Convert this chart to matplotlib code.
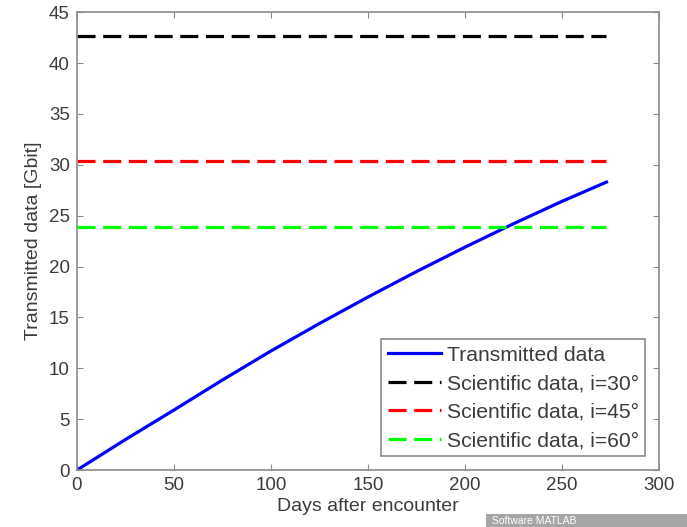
import matplotlib
matplotlib.use("Agg")
import matplotlib.pyplot as plt
from matplotlib.patches import Rectangle

# transmitted data curve
days = [0, 25, 50, 75, 100, 125, 150, 175, 200, 225, 250, 273]
transmitted = [0, 3.0, 5.9, 8.85, 11.7, 14.4, 17.0, 19.5, 21.9, 24.2, 26.4, 28.3]

# scientific data levels for each inclination
sci_labels = ["Scientific data, i=30°", "Scientific data, i=45°", "Scientific data, i=60°"]
sci_levels = [42.65, 30.4, 23.85]
sci_colors = ["#000000", "#ff0000", "#00ff00"]

xticks = [0, 50, 100, 150, 200, 250, 300]
yticks = [0, 5, 10, 15, 20, 25, 30, 35, 40, 45]

plt.rcParams["font.family"] = ["Liberation Sans", "DejaVu Sans"]
plt.rcParams["lines.scale_dashes"] = False

text_col = "#3c3c3c"
axis_col = "#8a8a8a"

fig = plt.figure(figsize=(6.87, 5.27), dpi=100)
ax = fig.add_axes([0.112, 0.108, 0.847, 0.869])

ax.plot(days, transmitted, color="#0000ff", lw=2.3, label="Transmitted data")
for lvl, lab, col in zip(sci_levels, sci_labels, sci_colors):
    ax.plot([days[0], days[-1]], [lvl, lvl], color=col, lw=2.3,
            dashes=(13, 5.5), label=lab)

ax.set_xlim(0, 300)
ax.set_ylim(0, 45)
ax.set_xticks(xticks)
ax.set_yticks(yticks)
ax.tick_params(direction="in", top=True, right=True, length=4, width=0.8,
               colors=axis_col, labelcolor=text_col, labelsize=13.5, pad=5)
for s in ax.spines.values():
    s.set_color(axis_col)
    s.set_linewidth(1.2)

ax.set_xlabel("Days after encounter", fontsize=14, color=text_col, labelpad=3)
ax.set_ylabel("Transmitted data [Gbit]", fontsize=14, color=text_col, labelpad=5)

leg = ax.legend(loc="lower right", fontsize=15.2, handlelength=2.55,
                handletextpad=0.25, borderaxespad=0.65, labelspacing=0.45,
                fancybox=False, framealpha=1, borderpad=0.3,
                labelcolor=text_col)
leg.get_frame().set_edgecolor(axis_col)
leg.get_frame().set_linewidth(1.2)

# grey caption bar at the bottom right
fig.patches.append(Rectangle((486 / 687, 0), 1, 13 / 527, transform=fig.transFigure,
                             facecolor="#a6a6a6", edgecolor="none"))
fig.text(492 / 687, 6.5 / 527, "Software MATLAB", color="white", fontsize=7.5,
         va="center", ha="left")

fig.savefig("out.png", dpi=100)
